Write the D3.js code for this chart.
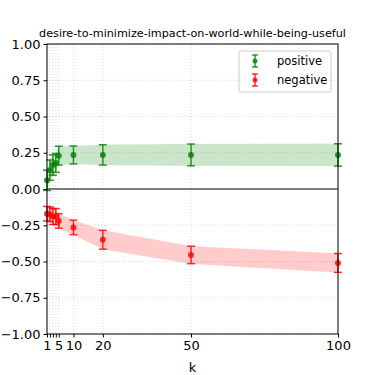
<!DOCTYPE html>
<html>
<head>
<meta charset="utf-8">
<script src="https://cdn.jsdelivr.net/npm/d3@7"></script>
<style>
body { margin: 0; background: #fff; }
svg { font-family: "DejaVu Sans", sans-serif; }
</style>
</head>
<body>
<svg id="graph" width="375" height="375"></svg>
<script>
// donnees
var kVals = [1, 2, 3, 4, 5, 10, 20, 50, 100];
var posMean = [0.06, 0.13, 0.165, 0.18, 0.23, 0.235, 0.235, 0.235, 0.235];
var posErr = [0.07, 0.07, 0.07, 0.065, 0.065, 0.062, 0.07, 0.075, 0.077];
var negMean = [-0.17, -0.175, -0.19, -0.19, -0.22, -0.265, -0.35, -0.455, -0.51];
var negErr = [0.05, 0.05, 0.055, 0.055, 0.05, 0.05, 0.065, 0.06, 0.065];
var xTicks = [1, 2, 3, 4, 5, 10, 20, 50, 100];
var xLabels = [1, 5, 10, 20, 50, 100];
var yTicks = [-1, -0.75, -0.5, -0.25, 0, 0.25, 0.5, 0.75, 1];
var titre = "desire-to-minimize-impact-on-world-while-being-useful";

var svg = d3.select("#graph");
var L = 47, R = 338, T = 44, B = 334;

var scaleX = d3.scaleLinear().domain([1, 100]).range([L, R]);
var scaleY = d3.scaleLinear().domain([-1, 1]).range([B, T]);

// grille
var grid = svg.append("g");
xTicks.forEach(function(t) {
  grid.append("line").attr("x1", scaleX(t)).attr("x2", scaleX(t)).attr("y1", T).attr("y2", B)
    .attr("stroke", "#b0b0b0").attr("stroke-width", 0.8).attr("stroke-dasharray", "1,2").attr("opacity", 0.6);
});
yTicks.forEach(function(t) {
  grid.append("line").attr("x1", L).attr("x2", R).attr("y1", scaleY(t)).attr("y2", scaleY(t))
    .attr("stroke", "#b0b0b0").attr("stroke-width", 0.8).attr("stroke-dasharray", "1,2").attr("opacity", 0.6);
});

// ligne zero
svg.append("line").attr("x1", L).attr("x2", R).attr("y1", scaleY(0)).attr("y2", scaleY(0))
  .attr("stroke", "black").attr("stroke-width", 1);

function serie(mean, err, color, fill) {
  var g = svg.append("g");
  var area = d3.area()
    .x(function(d, i) { return scaleX(kVals[i]); })
    .y0(function(d, i) { return scaleY(mean[i] - err[i]); })
    .y1(function(d, i) { return scaleY(mean[i] + err[i]); });
  g.append("path").attr("d", area(mean)).attr("fill", fill).attr("opacity", 0.2).attr("stroke", fill).attr("stroke-opacity", 0.2);
  for (var i = 0; i < kVals.length; i++) {
    var x = scaleX(kVals[i]);
    var y0 = scaleY(mean[i] - err[i]), y1 = scaleY(mean[i] + err[i]);
    g.append("line").attr("x1", x).attr("x2", x).attr("y1", y0).attr("y2", y1).attr("stroke", color).attr("stroke-width", 1.5).attr("opacity", 0.8);
    g.append("line").attr("x1", x - 4).attr("x2", x + 4).attr("y1", y0).attr("y2", y0).attr("stroke", color).attr("stroke-width", 1.5).attr("opacity", 0.8);
    g.append("line").attr("x1", x - 4).attr("x2", x + 4).attr("y1", y1).attr("y2", y1).attr("stroke", color).attr("stroke-width", 1.5).attr("opacity", 0.8);
    g.append("circle").attr("cx", x).attr("cy", scaleY(mean[i])).attr("r", 3).attr("fill", color).attr("opacity", 0.8);
  }
}
serie(posMean, posErr, "green", "green");
serie(negMean, negErr, "red", "red");

// cadre
svg.append("rect").attr("x", L).attr("y", T).attr("width", R - L).attr("height", B - T)
  .attr("fill", "none").attr("stroke", "black").attr("stroke-width", 1);

// axes
var xAxis = d3.axisBottom(scaleX).tickValues(xTicks).tickSize(3.5)
  .tickFormat(function(d) { return xLabels.indexOf(d) >= 0 ? d : ""; });
var gx = svg.append("g").attr("transform", "translate(0," + B + ")").call(xAxis);
var yAxis = d3.axisLeft(scaleY).tickValues(yTicks).tickSize(3.5).tickFormat(d3.format(".2f"));
var gy = svg.append("g").attr("transform", "translate(" + L + ",0)").call(yAxis);
[gx, gy].forEach(function(g) {
  g.select(".domain").remove();
  g.selectAll("text").attr("font-size", 13).attr("fill", "black").attr("font-family", "DejaVu Sans");
  g.selectAll("line").attr("stroke", "black");
});
gy.selectAll("text").text(function(d) { return d3.format(".2f")(d).replace("-", "\u2212"); });

// titres
svg.append("text").attr("x", (L + R) / 2).attr("y", 37).attr("text-anchor", "middle")
  .attr("font-size", 11.2).text(titre);
svg.append("text").attr("x", (L + R) / 2).attr("y", 372).attr("text-anchor", "middle")
  .attr("font-size", 13).text("k");

// legende
var leg = svg.append("g");
leg.append("rect").attr("x", 239).attr("y", 51).attr("width", 92).attr("height", 41).attr("rx", 2)
  .attr("fill", "white").attr("fill-opacity", 0.8).attr("stroke", "#cccccc");
[["positive", "green", 61], ["negative", "red", 80]].forEach(function(e) {
  var x = 255, y = e[2];
  leg.append("line").attr("x1", x).attr("x2", x).attr("y1", y - 6).attr("y2", y + 6).attr("stroke", e[1]).attr("stroke-width", 1.5).attr("opacity", 0.8);
  leg.append("line").attr("x1", x - 3).attr("x2", x + 3).attr("y1", y - 6).attr("y2", y - 6).attr("stroke", e[1]).attr("stroke-width", 1.5).attr("opacity", 0.8);
  leg.append("line").attr("x1", x - 3).attr("x2", x + 3).attr("y1", y + 6).attr("y2", y + 6).attr("stroke", e[1]).attr("stroke-width", 1.5).attr("opacity", 0.8);
  leg.append("circle").attr("cx", x).attr("cy", y).attr("r", 2.5).attr("fill", e[1]).attr("opacity", 0.8);
  leg.append("text").attr("x", 277).attr("y", y + 4).attr("font-size", 11.5).text(e[0]);
});
</script>
</body>
</html>
